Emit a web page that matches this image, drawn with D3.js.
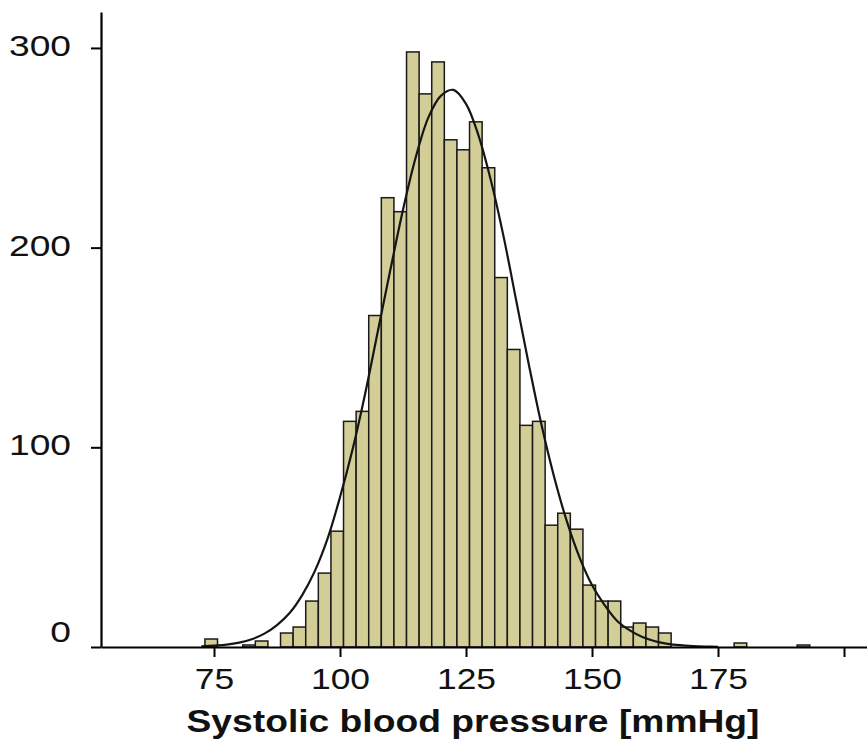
<!DOCTYPE html>
<html>
<head>
<meta charset="utf-8">
<script src="https://cdn.jsdelivr.net/npm/d3@7"></script>
<style>
  body { margin: 0; background: #fff; }
  text { font-family: Arial, "Liberation Sans", sans-serif; fill: #111; }
</style>
</head>
<body>
<div id="graphic"></div>
<script>
// histogram bins (left edge, mmHg) and counts
const binStarts = [73.2, 80.7, 83.2, 88.2, 90.7, 93.2, 95.7, 98.2, 100.7, 103.2,
                   105.7, 108.2, 110.7, 113.2, 115.7, 118.2, 120.7, 123.2, 125.7, 128.2,
                   130.7, 133.2, 135.7, 138.2, 140.7, 143.2, 145.7, 148.2, 150.7, 153.2,
                   155.7, 158.2, 160.7, 163.2, 178.2, 190.7];
const counts = [4, 1, 3, 7, 10, 23, 37, 58, 113, 118,
                166, 225, 218, 298, 277, 293, 254, 249, 263, 240,
                185, 149, 111, 113, 61, 67, 59, 31, 23, 23,
                10, 12, 10, 7, 2, 1];
const binWidth = 2.5;

// fitted normal curve
const curveX = [72.5, 75, 77.5, 80, 82.5, 85, 87.5, 90, 92.5, 95, 97.5, 100, 102.5, 105,
                107.5, 110, 112.5, 115, 117.5, 120, 122.5, 125, 127.5, 130, 132.5, 135,
                137.5, 140, 142.5, 145, 147.5, 150, 152.5, 155, 157.5, 160, 162.5, 165,
                167.5, 170, 172.5, 175];
const curveY = [0.3, 0.7, 1.2, 2.2, 3.9, 6.7, 11, 17, 26, 38, 54, 75, 99, 127,
                158, 189, 219, 245, 265, 276, 279, 272, 256, 233, 205, 173,
                141, 111, 85, 63, 45, 31, 21, 13, 8.3, 5, 2.9, 1.6,
                0.9, 0.5, 0.25, 0.1];

const xTicks = [75, 100, 125, 150, 175, 200];
const yTicks = [0, 100, 200, 300];
const xTitle = "Systolic blood pressure [mmHg]";

const W = 867, H = 745;
const svg = d3.select("#graphic").append("svg")
    .attr("width", W)
    .attr("height", H);

const x = d3.scaleLinear().domain([52.58, 204.56]).range([101, 867]);
const y = d3.scaleLinear().domain([0, 318]).range([647, 12]);

// bars
svg.append("g")
    .selectAll("rect")
    .data(binStarts)
    .join("rect")
    .attr("x", d => x(d))
    .attr("width", d => x(d + binWidth) - x(d))
    .attr("y", (d, i) => y(counts[i]))
    .attr("height", (d, i) => y(0) - y(counts[i]))
    .attr("fill", "#d3ce98")
    .attr("stroke", "#1a1a1a")
    .attr("stroke-width", 1.5);

// normal curve
const line = d3.line()
    .x(d => x(d[0]))
    .y(d => y(d[1]))
    .curve(d3.curveCatmullRom);

svg.append("path")
    .datum(curveX.map((v, i) => [v, curveY[i]]))
    .attr("d", line)
    .attr("fill", "none")
    .attr("stroke", "#151515")
    .attr("stroke-width", 2.2);

// axes
const xAxis = svg.append("g")
    .attr("transform", `translate(0, ${y(0)})`)
    .call(d3.axisBottom(x)
        .tickValues(xTicks)
        .tickFormat(d => d === 200 ? "" : d)
        .tickSize(10)
        .tickSizeOuter(0)
        .tickPadding(11));

const yAxis = svg.append("g")
    .attr("transform", `translate(${x.range()[0]}, 0)`)
    .call(d3.axisLeft(y)
        .tickValues(yTicks)
        .tickSize(10)
        .tickSizeOuter(0)
        .tickPadding(20));

[xAxis, yAxis].forEach(g => {
    g.select(".domain").attr("stroke", "#000").attr("stroke-width", 2.2);
    g.selectAll(".tick line").attr("stroke", "#000").attr("stroke-width", 2);
    g.selectAll(".tick text")
        .attr("font-size", 30)
        .attr("font-family", "Arial, 'Liberation Sans', sans-serif")
        .attr("fill", "#111");
});

// "0" sits a bit above its tick in the original
yAxis.selectAll(".tick text")
    .attr("dy", d => d === 0 ? "-0.2em" : "0.25em");

// the original text is a little wider than Arial
xAxis.selectAll(".tick text").each(function() {
    const len = this.getComputedTextLength();
    if (len > 0) {
        d3.select(this)
            .attr("textLength", len * 1.18)
            .attr("lengthAdjust", "spacingAndGlyphs");
    }
});
yAxis.selectAll(".tick text").each(function() {
    const len = this.getComputedTextLength();
    d3.select(this)
        .attr("textLength", len * 1.24)
        .attr("lengthAdjust", "spacingAndGlyphs");
});

// axis title
svg.append("text")
    .attr("x", 473)
    .attr("y", 732)
    .attr("text-anchor", "middle")
    .attr("font-size", 32)
    .attr("font-weight", "bold")
    .attr("textLength", 573)
    .attr("lengthAdjust", "spacingAndGlyphs")
    .text(xTitle);
</script>
</body>
</html>
